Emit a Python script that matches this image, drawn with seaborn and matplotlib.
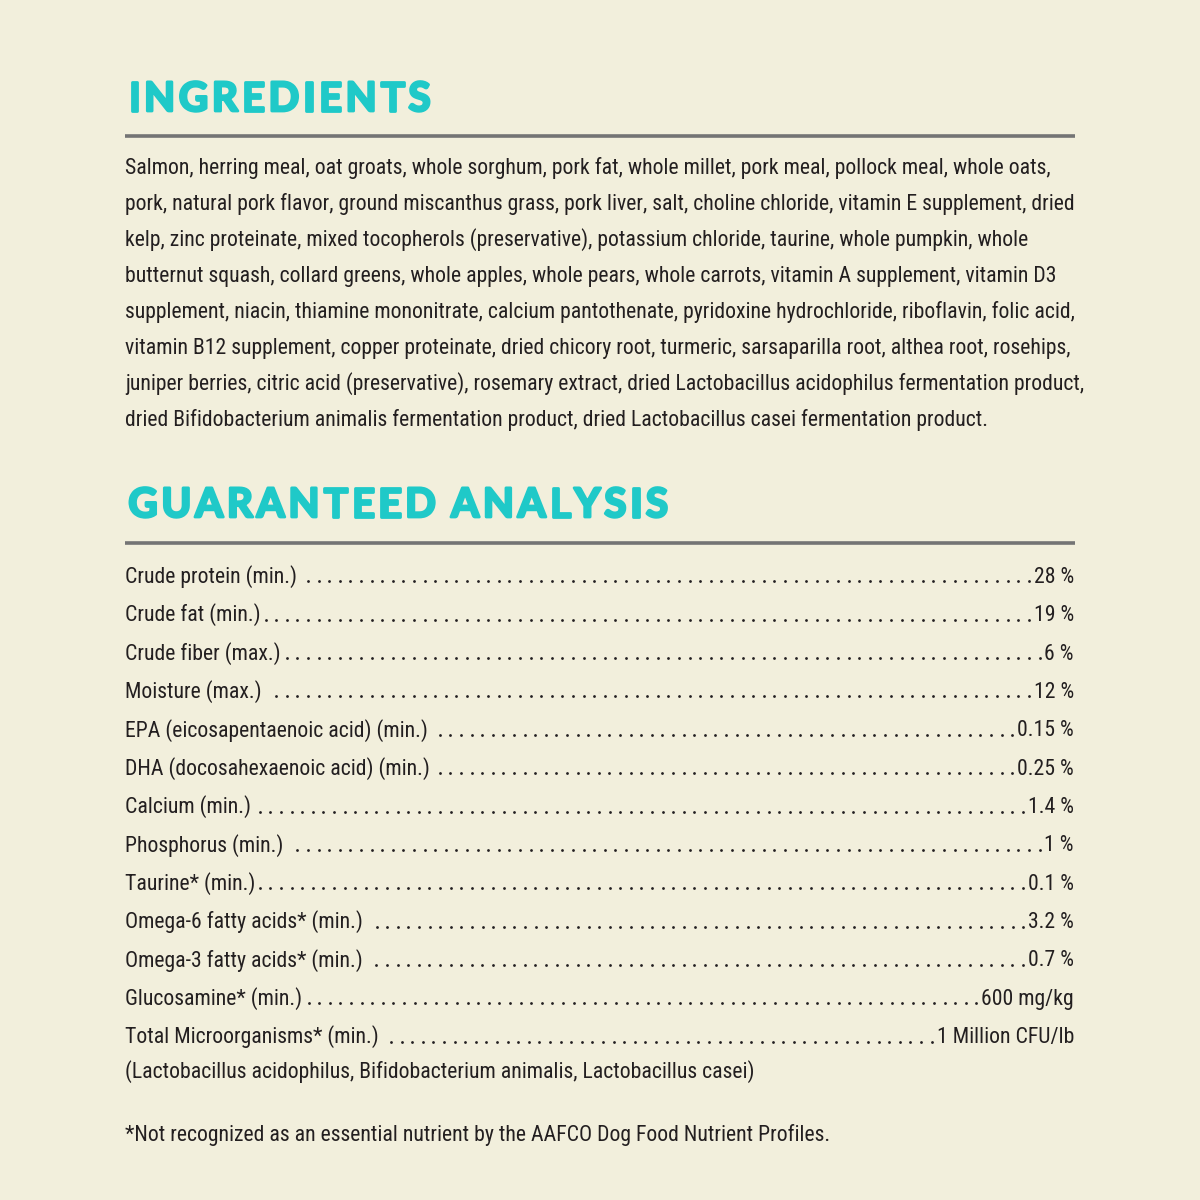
import matplotlib
matplotlib.use("Agg")
import matplotlib.pyplot as plt
import matplotlib.patheffects as pe
import seaborn as sns
import pandas as pd
from matplotlib import font_manager

# Farben
BG = "#F2EFDC"
TEAL = "#1FC9C8"
RULE = "#747474"
INK = "#231F20"

# Texte / Daten
heading_1 = "INGREDIENTS"
heading_2 = "GUARANTEED ANALYSIS"

ingredient_lines = [
    "Salmon, herring meal, oat groats, whole sorghum, pork fat, whole millet, pork meal, pollock meal, whole oats,",
    "pork, natural pork flavor, ground miscanthus grass, pork liver, salt, choline chloride, vitamin E supplement, dried",
    "kelp, zinc proteinate, mixed tocopherols (preservative), potassium chloride, taurine, whole pumpkin, whole",
    "butternut squash, collard greens, whole apples, whole pears, whole carrots, vitamin A supplement, vitamin D3",
    "supplement, niacin, thiamine mononitrate, calcium pantothenate, pyridoxine hydrochloride, riboflavin, folic acid,",
    "vitamin B12 supplement, copper proteinate, dried chicory root, turmeric, sarsaparilla root, althea root, rosehips,",
    "juniper berries, citric acid (preservative), rosemary extract, dried Lactobacillus acidophilus fermentation product,",
    "dried Bifidobacterium animalis fermentation product, dried Lactobacillus casei fermentation product.",
]

analysis_labels = [
    "Crude protein (min.)",
    "Crude fat (min.)",
    "Crude fiber (max.)",
    "Moisture (max.)",
    "EPA (eicosapentaenoic acid) (min.)",
    "DHA (docosahexaenoic acid) (min.)",
    "Calcium (min.)",
    "Phosphorus (min.)",
    "Taurine* (min.)",
    "Omega-6 fatty acids* (min.)",
    "Omega-3 fatty acids* (min.)",
    "Glucosamine* (min.)",
    "Total Microorganisms* (min.)",
]
analysis_values = [
    "28 %", "19 %", "6 %", "12 %", "0.15 %", "0.25 %", "1.4 %",
    "1 %", "0.1 %", "3.2 %", "0.7 %", "600 mg/kg", "1 Million CFU/lb",
]
analysis_note = "(Lactobacillus acidophilus, Bifidobacterium animalis, Lactobacillus casei)"
footnote = "*Not recognized as an essential nutrient by the AAFCO Dog Food Nutrient Profiles."

# Schriften
sns.set_theme(style="white")
installed = {f.name for f in font_manager.fontManager.ttflist}


def pick(cands):
    return next((c for c in cands if c in installed), "DejaVu Sans")


body_font = pick(["Liberation Sans Narrow", "Roboto Condensed", "Open Sans Condensed",
                  "Noto Sans", "Liberation Sans"])
head_font = pick(["Lato", "Inter", "Open Sans", "DejaVu Sans"])
plt.rcParams["font.family"] = [body_font, "DejaVu Sans"]

fig = plt.figure(figsize=(12, 12), dpi=100, facecolor=BG)
ax = fig.add_axes([0, 0, 1, 1])
ax.set_facecolor(BG)
ax.set_xlim(0, 1200)
ax.set_ylim(1200, 0)
ax.axis("off")
renderer = fig.canvas.get_renderer()

LEFT, RIGHT = 125, 1075


def width_of(t):
    return t.get_window_extent(renderer).width


# Schriftgröße des Fließtexts an die erste Zeile anpassen (125 -> 1050 px)
probe = ax.text(LEFT, 174, ingredient_lines[0], fontsize=20, color=INK)
body_size = 20 * 925 / width_of(probe)
probe.remove()

# Überschriften: fett, mit Kontur verstärkt und gesperrt
head_size = 29 / 0.72 * 72 / 100
head_kw = dict(fontsize=head_size, family=[head_font, "DejaVu Sans"], fontweight="bold")
stroke = 2.0  # pt
heavy = [pe.withStroke(linewidth=stroke, foreground=TEAL)]
stroke_px = stroke * 100 / 72


def char_widths(s):
    ws = []
    for ch in s:
        if ch == " ":
            ws.append(None)
            continue
        t = ax.text(0, 0, ch, **head_kw)
        ws.append(width_of(t) + stroke_px)
        t.remove()
    return ws


w1 = char_widths(heading_1)
track = (305 - sum(w1)) / (len(heading_1) - 1)
space_w = head_size * 100 / 72 * 0.26


def spaced_heading(x, y, s):
    x += stroke_px / 2
    for ch, w in zip(s, char_widths(s)):
        if w is None:
            x += space_w + track
            continue
        ax.text(x, y, ch, color=TEAL, va="baseline", ha="left", path_effects=heavy, **head_kw)
        x += w + track


spaced_heading(127, 111, heading_1)
spaced_heading(127, 517, heading_2)

# Trennlinien
for y in (136, 542.5):
    ax.plot([LEFT, RIGHT], [y, y], color=RULE, lw=2.6, solid_capstyle="butt")

# Zutaten
for i, line in enumerate(ingredient_lines):
    ax.text(LEFT, 174 + 36 * i, line, fontsize=body_size, color=INK, va="baseline")

# Analyse mit Punktlinien
dots = []
for i, (lab, val) in enumerate(zip(analysis_labels, analysis_values)):
    y = 583 + 38.35 * i
    tl = ax.text(LEFT, y, lab, fontsize=body_size, color=INK, va="baseline")
    tv = ax.text(1074, y, val, fontsize=body_size, color=INK, va="baseline", ha="right")
    start = LEFT + width_of(tl) + 4
    x = 1074 - width_of(tv) - 5
    while x > start:
        dots.append({"x": x, "y": y - 1.6})
        x -= 10.6

dot_df = pd.DataFrame(dots)
sns.scatterplot(data=dot_df, x="x", y="y", ax=ax, color=INK, s=4, linewidth=0,
                legend=False)
ax.set_xlim(0, 1200)
ax.set_ylim(1200, 0)
ax.axis("off")

ax.text(LEFT, 1078, analysis_note, fontsize=body_size, color=INK, va="baseline")
ax.text(LEFT, 1141, footnote, fontsize=body_size, color=INK, va="baseline")

plt.savefig("out.png", dpi=100, facecolor=BG)
